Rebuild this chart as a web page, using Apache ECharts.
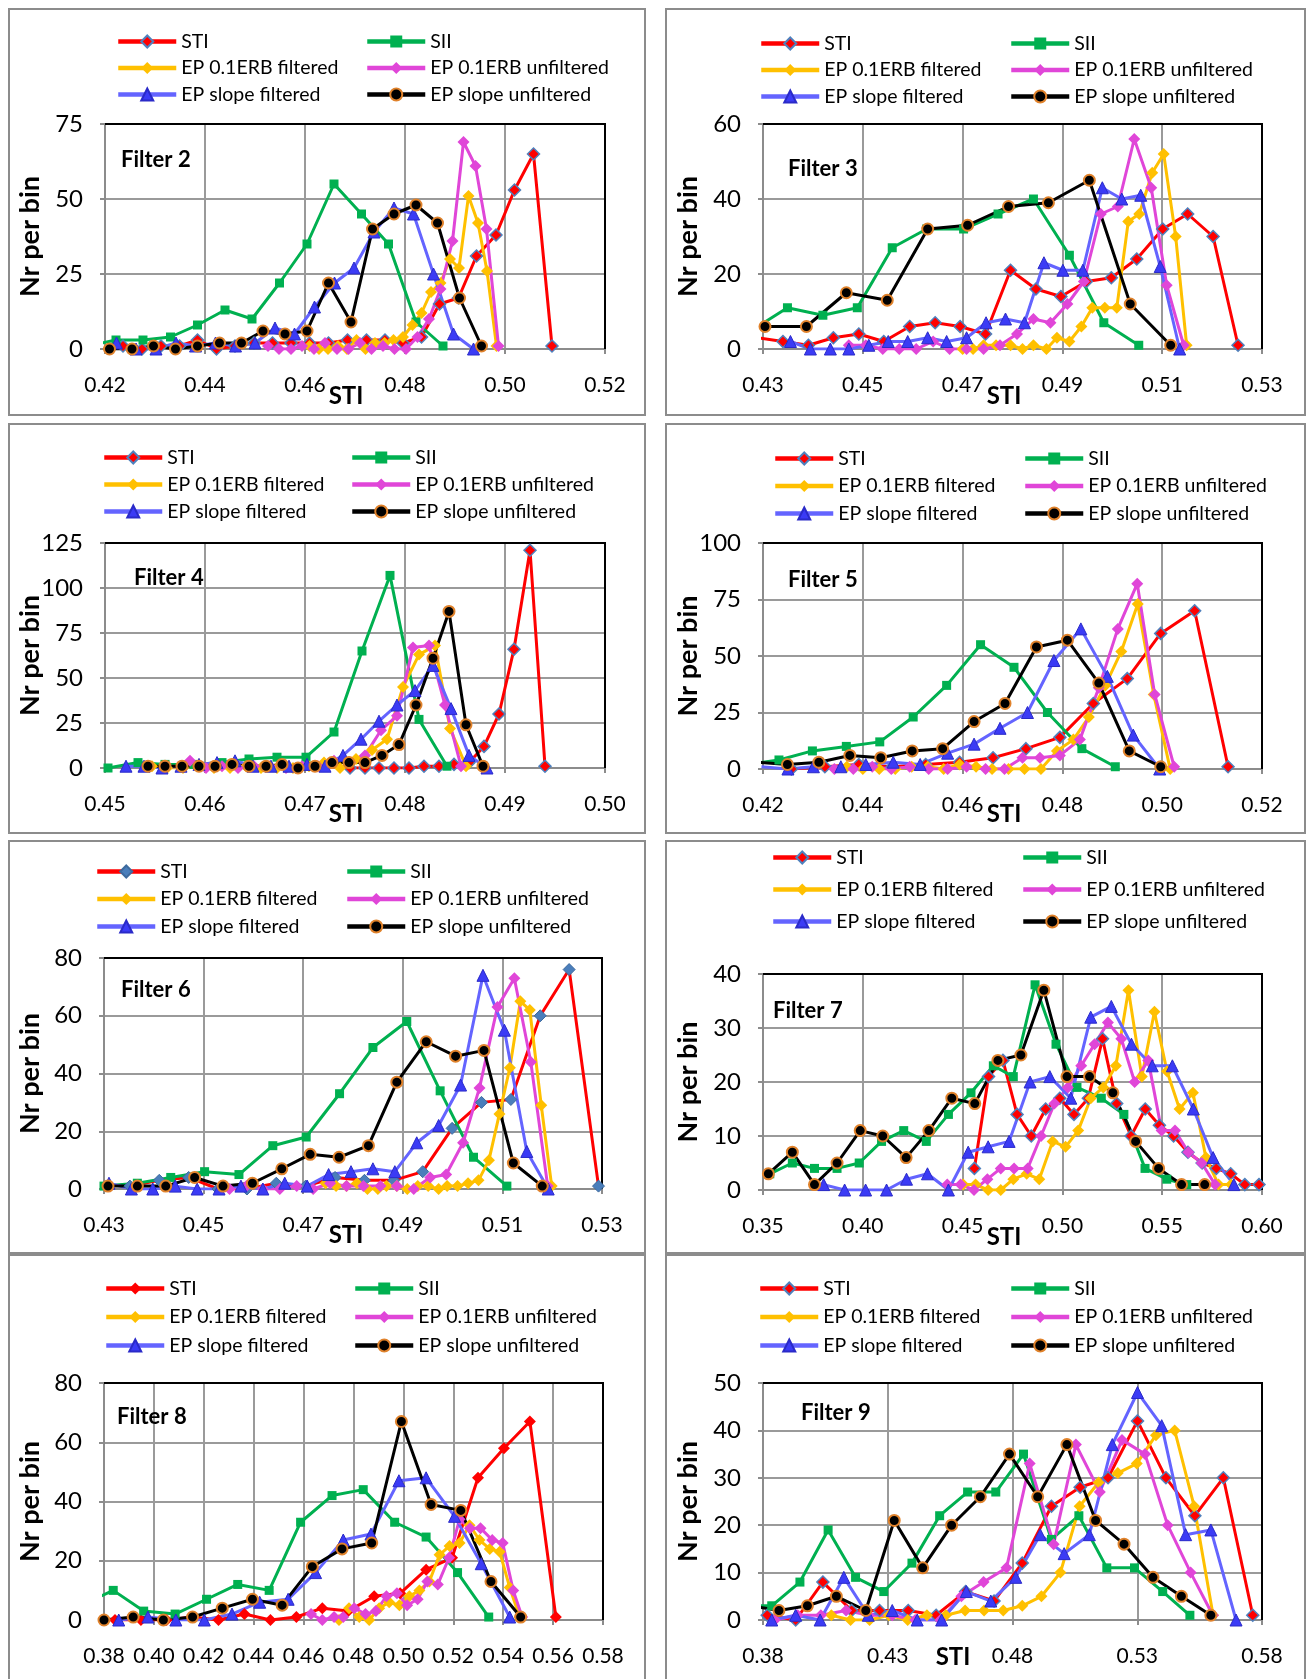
<!DOCTYPE html>
<html>
<head>
<meta charset="utf-8">
<script src="https://cdn.jsdelivr.net/npm/echarts@6/dist/echarts.min.js"></script>
<style>
  html, body { margin: 0; padding: 0; background: #ffffff; }
  #chart { width: 1311px; height: 1679px; }
</style>
</head>
<body>
<div id="chart"></div>
<script>
// ---------------- Series names ----------------
const SERIES_NAMES = ['STI', 'SII', 'EP 0.1ERB filtered', 'EP 0.1ERB unfiltered', 'EP slope filtered', 'EP slope unfiltered'];

// ---------------- Filter 2 ----------------
const f2_STI_x = [0.4236,0.4274,0.4312,0.4349,0.4385,0.4423,0.4460,0.4498,0.4535,0.4572,0.4609,0.4647,0.4685,0.4723,0.4760,0.4796,0.4833,0.4869,0.4907,0.4943,0.4982,0.5019,0.5057,0.5094];
const f2_STI_y = [1,0,1,1,3,0,1,2,2,2,2,2,3,3,3,2,4,15,17,31,38,53,65,1];
const f2_SII_x = [0.4167,0.4222,0.4276,0.4331,0.4385,0.4440,0.4494,0.4549,0.4604,0.4658,0.4713,0.4767,0.4822,0.4876];
const f2_SII_y = [1,3,3,4,8,13,10,22,35,55,45,35,9,1];
const f2_ERBf_x = [0.4609,0.4628,0.4646,0.4666,0.4684,0.4703,0.4721,0.4740,0.4759,0.4777,0.4796,0.4815,0.4833,0.4852,0.4871,0.4890,0.4908,0.4927,0.4946,0.4964,0.4983];
const f2_ERBf_y = [1,0,0,1,0,3,0,2,2,3,4,8,12,19,22,30,27,51,42,26,1];
const f2_ERBu_x = [0.4526,0.4548,0.4572,0.4594,0.4618,0.4640,0.4664,0.4687,0.4710,0.4733,0.4756,0.4779,0.4802,0.4825,0.4848,0.4871,0.4895,0.4917,0.4941,0.4963,0.4987];
const f2_ERBu_y = [1,0,0,1,0,2,0,0,2,0,1,0,0,4,10,20,36,69,61,40,1];
const f2_SLf_x = [0.4223,0.4262,0.4302,0.4342,0.4381,0.4421,0.4461,0.4500,0.4540,0.4579,0.4619,0.4659,0.4698,0.4738,0.4778,0.4817,0.4857,0.4897,0.4937];
const f2_SLf_y = [2,0,0,2,1,2,1,2,7,5,14,22,27,39,47,45,25,5,0];
const f2_SLu_x = [0.4209,0.4254,0.4297,0.4341,0.4385,0.4429,0.4473,0.4516,0.4560,0.4604,0.4647,0.4692,0.4735,0.4778,0.4822,0.4865,0.4909,0.4953];
const f2_SLu_y = [0,0,1,0,1,2,2,6,5,6,22,9,40,45,48,42,17,1];
const f2_ticks = [0.42,0.44,0.46,0.48,0.50,0.52];

// ---------------- Filter 3 ----------------
const f3_STI_x = [0.4290,0.4340,0.4391,0.4441,0.4492,0.4542,0.4594,0.4645,0.4695,0.4746,0.4796,0.4847,0.4897,0.4948,0.4998,0.5049,0.5101,0.5151,0.5202,0.5252];
const f3_STI_y = [3,2,1,3,4,2,6,7,6,4,21,16,14,18,19,24,32,36,30,1];
const f3_SII_x = [0.4278,0.4349,0.4420,0.4489,0.4559,0.4628,0.4702,0.4771,0.4842,0.4914,0.4983,0.5053];
const f3_SII_y = [5,11,9,11,27,32,32,36,40,25,7,1];
const f3_ERBf_x = [0.4700,0.4721,0.4742,0.4767,0.4796,0.4820,0.4842,0.4868,0.4889,0.4914,0.4938,0.4960,0.4985,0.5009,0.5032,0.5054,0.5080,0.5103,0.5127,0.5149];
const f3_ERBf_y = [0,0,1,1,1,0,1,0,3,2,6,11,11,11,34,36,47,52,30,1];
const f3_ERBu_x = [0.4472,0.4506,0.4540,0.4573,0.4607,0.4641,0.4674,0.4708,0.4742,0.4775,0.4809,0.4842,0.4876,0.4910,0.4943,0.4977,0.5011,0.5044,0.5078,0.5109,0.5143];
const f3_ERBu_y = [1,1,0,0,0,2,0,0,0,1,4,8,7,12,18,36,38,56,43,17,1];
const f3_SLf_x = [0.4355,0.4395,0.4435,0.4472,0.4512,0.4551,0.4590,0.4630,0.4668,0.4708,0.4747,0.4786,0.4824,0.4863,0.4901,0.4941,0.4980,0.5019,0.5057,0.5096,0.5135];
const f3_SLf_y = [2,0,0,0,1,2,2,3,2,3,7,8,7,23,21,21,43,40,41,22,0];
const f3_SLu_x = [0.4304,0.4387,0.4467,0.4549,0.4630,0.4710,0.4792,0.4872,0.4954,0.5036,0.5117];
const f3_SLu_y = [6,6,15,13,32,33,38,39,45,12,1];
const f3_ticks = [0.43,0.45,0.47,0.49,0.51,0.53];

// ---------------- Filter 4 ----------------
const f4_STI_x = [0.4745,0.4760,0.4774,0.4789,0.4804,0.4819,0.4834,0.4849,0.4864,0.4879,0.4894,0.4909,0.4925,0.4940];
const f4_STI_y = [0,0,0,0,0,1,1,2,3,12,30,66,121,1];
const f4_SII_x = [0.4503,0.4533,0.4560,0.4589,0.4617,0.4644,0.4672,0.4701,0.4729,0.4757,0.4785,0.4814,0.4842];
const f4_SII_y = [0,3,2,2,3,5,6,6,20,65,107,27,1];
const f4_ERBf_x = [0.4547,0.4562,0.4578,0.4594,0.4609,0.4625,0.4641,0.4656,0.4672,0.4688,0.4704,0.4719,0.4735,0.4751,0.4767,0.4782,0.4798,0.4814,0.4830,0.4845,0.4861];
const f4_ERBf_y = [1,0,0,2,0,0,1,0,0,0,1,3,0,5,10,16,45,63,68,22,1];
const f4_ERBu_x = [0.4585,0.4601,0.4617,0.4633,0.4649,0.4665,0.4681,0.4697,0.4713,0.4729,0.4745,0.4760,0.4776,0.4792,0.4808,0.4824,0.4840,0.4856];
const f4_ERBu_y = [4,0,1,0,1,1,0,1,1,4,3,7,21,29,67,68,35,1];
const f4_SLf_x = [0.4521,0.4539,0.4557,0.4576,0.4594,0.4612,0.4630,0.4648,0.4666,0.4684,0.4702,0.4720,0.4738,0.4756,0.4774,0.4792,0.4810,0.4828,0.4846,0.4864,0.4882];
const f4_SLf_y = [1,1,0,1,2,3,4,1,1,1,2,1,7,16,26,35,43,57,33,7,0];
const f4_SLu_x = [0.4543,0.4560,0.4577,0.4594,0.4610,0.4627,0.4644,0.4661,0.4677,0.4693,0.4710,0.4727,0.4744,0.4760,0.4777,0.4794,0.4811,0.4828,0.4844,0.4861,0.4878];
const f4_SLu_y = [1,1,1,1,1,2,1,1,2,0,1,3,3,3,7,13,35,61,87,24,1];
const f4_ticks = [0.45,0.46,0.47,0.48,0.49,0.50];

// ---------------- Filter 5 ----------------
const f5_STI_x = [0.4257,0.4324,0.4392,0.4459,0.4526,0.4594,0.4661,0.4727,0.4795,0.4862,0.4930,0.4997,0.5065,0.5132];
const f5_STI_y = [0,1,2,1,2,3,5,9,14,29,40,60,70,1];
const f5_SII_x = [0.4165,0.4232,0.4299,0.4367,0.4434,0.4501,0.4568,0.4636,0.4703,0.4770,0.4839,0.4906];
const f5_SII_y = [2,4,8,10,12,23,37,55,45,25,9,1];
const f5_ERBf_x = [0.4368,0.4400,0.4433,0.4465,0.4498,0.4530,0.4562,0.4594,0.4627,0.4659,0.4692,0.4724,0.4757,0.4789,0.4822,0.4853,0.4886,0.4918,0.4951,0.4983,0.5016];
const f5_ERBf_y = [1,0,0,0,1,1,0,2,1,0,0,0,0,8,13,23,37,52,73,33,0];
const f5_ERBu_x = [0.4305,0.4343,0.4381,0.4419,0.4457,0.4494,0.4532,0.4570,0.4608,0.4646,0.4684,0.4720,0.4755,0.4795,0.4835,0.4873,0.4911,0.4950,0.4985,0.5024];
const f5_ERBu_y = [1,0,0,1,0,1,0,0,1,0,0,5,5,6,13,36,62,82,33,1];
const f5_SLf_x = [0.4197,0.4250,0.4301,0.4356,0.4406,0.4461,0.4515,0.4570,0.4623,0.4675,0.4730,0.4783,0.4837,0.4890,0.4942,0.4995];
const f5_SLf_y = [1,0,1,1,2,3,2,7,11,18,25,48,62,41,15,0];
const f5_SLu_x = [0.4187,0.4249,0.4312,0.4374,0.4436,0.4499,0.4560,0.4623,0.4685,0.4748,0.4810,0.4873,0.4934,0.4997];
const f5_SLu_y = [3,2,3,6,5,8,9,21,29,54,57,38,8,1];
const f5_ticks = [0.42,0.44,0.46,0.48,0.50,0.52];

// ---------------- Filter 6 ----------------
const f6_STI_x = [0.4352,0.4411,0.4470,0.4529,0.4587,0.4646,0.4705,0.4764,0.4823,0.4882,0.4940,0.4999,0.5058,0.5117,0.5176,0.5234,0.5293];
const f6_STI_y = [1,3,4,0,0,2,1,4,3,3,6,21,30,31,60,76,1];
const f6_SII_x = [0.4300,0.4367,0.4434,0.4502,0.4571,0.4639,0.4706,0.4773,0.4840,0.4908,0.4975,0.5042,0.5109];
const f6_SII_y = [1,2,4,6,5,15,18,33,49,58,34,11,1];
const f6_ERBf_x = [0.4745,0.4766,0.4787,0.4808,0.4829,0.4850,0.4867,0.4888,0.4909,0.4930,0.4951,0.4972,0.4989,0.5010,0.5031,0.5052,0.5073,0.5094,0.5115,0.5136,0.5155,0.5178,0.5199];
const f6_ERBf_y = [2,1,1,2,0,0,1,1,0,1,1,0,1,1,2,3,10,26,42,65,62,29,1];
const f6_ERBu_x = [0.4552,0.4586,0.4619,0.4653,0.4687,0.4720,0.4754,0.4787,0.4821,0.4855,0.4888,0.4922,0.4955,0.4987,0.5021,0.5054,0.5090,0.5124,0.5157,0.5191];
const f6_ERBu_y = [0,1,0,0,1,0,2,1,1,1,1,0,4,5,16,35,63,73,44,1];
const f6_SLf_x = [0.4310,0.4355,0.4398,0.4443,0.4487,0.4531,0.4575,0.4619,0.4663,0.4708,0.4751,0.4796,0.4840,0.4884,0.4928,0.4972,0.5016,0.5061,0.5104,0.5149,0.5192];
const f6_SLf_y = [2,0,0,1,0,0,1,0,2,1,5,6,7,6,16,22,36,74,55,13,0];
const f6_SLu_x = [0.4308,0.4367,0.4424,0.4482,0.4539,0.4598,0.4657,0.4714,0.4772,0.4831,0.4888,0.4947,0.5006,0.5063,0.5122,0.5180];
const f6_SLu_y = [1,1,1,4,1,2,7,12,11,15,37,51,46,48,9,1];
const f6_ticks = [0.43,0.45,0.47,0.49,0.51,0.53];

// ---------------- Filter 7 ----------------
const f7_STI_x = [0.4559,0.4630,0.4702,0.4773,0.4844,0.4916,0.4987,0.5058,0.5130,0.5201,0.5272,0.5344,0.5415,0.5486,0.5557,0.5629,0.5700,0.5771,0.5843,0.5914,0.5985];
const f7_STI_y = [4,21,24,14,10,15,17,14,17,28,16,10,15,12,10,7,5,4,3,1,1];
const f7_SII_x = [0.3534,0.3647,0.3758,0.3871,0.3982,0.4094,0.4205,0.4318,0.4429,0.4542,0.4654,0.4754,0.4863,0.4968,0.5073,0.5195,0.5308,0.5414,0.5523,0.5623];
const f7_SII_y = [3,5,4,4,5,9,11,9,14,18,23,21,38,27,19,17,14,4,2,1];
const f7_ERBf_x = [0.4503,0.4565,0.4628,0.4691,0.4754,0.4821,0.4884,0.4951,0.5016,0.5079,0.5142,0.5205,0.5268,0.5331,0.5398,0.5461,0.5524,0.5587,0.5654,0.5719,0.5782,0.5845];
const f7_ERBf_y = [1,1,0,0,2,3,2,9,8,11,17,19,23,37,21,33,22,15,18,6,1,1];
const f7_ERBu_x = [0.4423,0.4490,0.4557,0.4624,0.4691,0.4758,0.4826,0.4893,0.4960,0.5027,0.5094,0.5161,0.5228,0.5295,0.5362,0.5430,0.5497,0.5564,0.5631,0.5698,0.5765];
const f7_ERBu_y = [1,1,0,2,4,4,4,10,16,19,23,27,31,28,20,24,11,11,7,5,1];
const f7_SLf_x = [0.3804,0.3909,0.4014,0.4119,0.4219,0.4324,0.4429,0.4528,0.4628,0.4733,0.4838,0.4937,0.5042,0.5142,0.5245,0.5346,0.5450,0.5551,0.5656,0.5755,0.5859];
const f7_SLf_y = [1,0,0,0,2,3,0,7,8,9,20,21,17,32,34,27,23,23,15,6,1];
const f7_SLu_x = [0.3527,0.3647,0.3758,0.3871,0.3987,0.4100,0.4217,0.4331,0.4446,0.4561,0.4677,0.4792,0.4907,0.5023,0.5136,0.5253,0.5367,0.5482,0.5597,0.5713];
const f7_SLu_y = [3,7,1,5,11,10,6,11,17,16,24,25,37,21,21,18,9,4,1,1];
const f7_ticks = [0.35,0.40,0.45,0.50,0.55,0.60];

// ---------------- Filter 8 ----------------
const f8_STI_x = [0.3740,0.3844,0.3948,0.4051,0.4155,0.4259,0.4363,0.4467,0.4571,0.4675,0.4779,0.4883,0.4987,0.5091,0.5195,0.5299,0.5403,0.5507,0.5611];
const f8_STI_y = [1,0,0,0,1,0,2,0,1,4,3,8,9,17,21,48,58,67,1];
const f8_SII_x = [0.3711,0.3837,0.3959,0.4085,0.4211,0.4336,0.4462,0.4588,0.4714,0.4839,0.4965,0.5091,0.5217,0.5342];
const f8_SII_y = [5,10,3,2,7,12,10,33,42,44,33,28,16,1];
const f8_ERBf_x = [0.4742,0.4782,0.4823,0.4863,0.4903,0.4943,0.4984,0.5024,0.5064,0.5104,0.5145,0.5185,0.5225,0.5265,0.5305,0.5346,0.5386,0.5426,0.5466];
const f8_ERBf_y = [0,4,1,0,4,6,5,8,10,13,22,25,26,32,27,24,23,11,1];
const f8_ERBu_x = [0.4630,0.4675,0.4722,0.4759,0.4803,0.4848,0.4890,0.4932,0.4974,0.5015,0.5057,0.5096,0.5138,0.5183,0.5225,0.5267,0.5309,0.5356,0.5398,0.5440,0.5476];
const f8_ERBu_y = [2,0,1,1,4,2,3,8,9,5,7,13,12,21,34,31,31,27,26,10,1];
const f8_SLf_x = [0.3859,0.3976,0.4088,0.4202,0.4313,0.4424,0.4538,0.4648,0.4759,0.4870,0.4982,0.5091,0.5205,0.5312,0.5426];
const f8_SLf_y = [0,1,0,0,2,6,7,16,27,29,47,48,35,19,1];
const f8_SLu_x = [0.3800,0.3917,0.4038,0.4155,0.4274,0.4395,0.4514,0.4635,0.4754,0.4873,0.4992,0.5111,0.5230,0.5351,0.5470];
const f8_SLu_y = [0,1,0,1,4,7,5,18,24,26,67,39,37,13,1];
const f8_ticks = [0.38,0.40,0.42,0.44,0.46,0.48,0.50,0.52,0.54,0.56,0.58];

// ---------------- Filter 9 ----------------
const f9_STI_x = [0.3817,0.3931,0.4040,0.4155,0.4267,0.4382,0.4494,0.4612,0.4726,0.4839,0.4956,0.5071,0.5183,0.5301,0.5415,0.5531,0.5645,0.5763];
const f9_STI_y = [1,0,8,2,2,2,1,6,4,12,24,28,30,42,30,22,30,1];
const f9_SII_x = [0.3723,0.3835,0.3948,0.4061,0.4171,0.4284,0.4397,0.4508,0.4620,0.4733,0.4844,0.4956,0.5066,0.5178,0.5289,0.5402,0.5511];
const f9_SII_y = [3,3,8,19,9,6,12,22,27,27,35,17,22,11,11,6,1];
const f9_ERBf_x = [0.4074,0.4151,0.4227,0.4304,0.4380,0.4457,0.4533,0.4610,0.4686,0.4763,0.4839,0.4916,0.4992,0.5069,0.5145,0.5222,0.5298,0.5375,0.5450,0.5528,0.5604];
const f9_ERBf_y = [1,0,0,1,0,1,1,2,2,2,3,5,10,24,29,31,33,39,40,24,1];
const f9_ERBu_x = [0.3847,0.3939,0.4032,0.4133,0.4225,0.4318,0.4410,0.4511,0.4595,0.4684,0.4776,0.4869,0.4965,0.5054,0.5150,0.5239,0.5331,0.5422,0.5514,0.5603];
const f9_ERBu_y = [0,1,1,2,1,1,0,0,5,8,11,33,16,37,27,38,35,20,10,1];
const f9_SLf_x = [0.3835,0.3931,0.4029,0.4124,0.4222,0.4318,0.4418,0.4516,0.4615,0.4713,0.4813,0.4911,0.5007,0.5108,0.5200,0.5301,0.5398,0.5494,0.5595,0.5696];
const f9_SLf_y = [0,1,0,9,1,2,0,0,6,4,9,18,14,18,37,48,41,18,19,0];
const f9_SLu_x = [0.3750,0.3864,0.3978,0.4094,0.4212,0.4326,0.4440,0.4556,0.4671,0.4788,0.4901,0.5018,0.5133,0.5247,0.5363,0.5477,0.5595];
const f9_SLu_y = [3,2,3,5,2,21,11,20,26,35,26,37,21,16,9,5,1];
const f9_ticks = [0.38,0.43,0.48,0.53,0.58];

// ---------------- Panel definitions ----------------
const PANELS = [
  { id: 2, xMin: 0.42, xMax: 0.52, xTicks: f2_ticks, yMax: 75,  yStep: 25, series: [[f2_STI_x,f2_STI_y],[f2_SII_x,f2_SII_y],[f2_ERBf_x,f2_ERBf_y],[f2_ERBu_x,f2_ERBu_y],[f2_SLf_x,f2_SLf_y],[f2_SLu_x,f2_SLu_y]] },
  { id: 3, xMin: 0.43, xMax: 0.53, xTicks: f3_ticks, yMax: 60,  yStep: 20, series: [[f3_STI_x,f3_STI_y],[f3_SII_x,f3_SII_y],[f3_ERBf_x,f3_ERBf_y],[f3_ERBu_x,f3_ERBu_y],[f3_SLf_x,f3_SLf_y],[f3_SLu_x,f3_SLu_y]] },
  { id: 4, xMin: 0.45, xMax: 0.50, xTicks: f4_ticks, yMax: 125, yStep: 25, series: [[f4_STI_x,f4_STI_y],[f4_SII_x,f4_SII_y],[f4_ERBf_x,f4_ERBf_y],[f4_ERBu_x,f4_ERBu_y],[f4_SLf_x,f4_SLf_y],[f4_SLu_x,f4_SLu_y]] },
  { id: 5, xMin: 0.42, xMax: 0.52, xTicks: f5_ticks, yMax: 100, yStep: 25, series: [[f5_STI_x,f5_STI_y],[f5_SII_x,f5_SII_y],[f5_ERBf_x,f5_ERBf_y],[f5_ERBu_x,f5_ERBu_y],[f5_SLf_x,f5_SLf_y],[f5_SLu_x,f5_SLu_y]] },
  { id: 6, xMin: 0.43, xMax: 0.53, xTicks: f6_ticks, yMax: 80,  yStep: 20, series: [[f6_STI_x,f6_STI_y],[f6_SII_x,f6_SII_y],[f6_ERBf_x,f6_ERBf_y],[f6_ERBu_x,f6_ERBu_y],[f6_SLf_x,f6_SLf_y],[f6_SLu_x,f6_SLu_y]] },
  { id: 7, xMin: 0.35, xMax: 0.60, xTicks: f7_ticks, yMax: 40,  yStep: 10, series: [[f7_STI_x,f7_STI_y],[f7_SII_x,f7_SII_y],[f7_ERBf_x,f7_ERBf_y],[f7_ERBu_x,f7_ERBu_y],[f7_SLf_x,f7_SLf_y],[f7_SLu_x,f7_SLu_y]] },
  { id: 8, xMin: 0.38, xMax: 0.58, xTicks: f8_ticks, yMax: 80,  yStep: 20, series: [[f8_STI_x,f8_STI_y],[f8_SII_x,f8_SII_y],[f8_ERBf_x,f8_ERBf_y],[f8_ERBu_x,f8_ERBu_y],[f8_SLf_x,f8_SLf_y],[f8_SLu_x,f8_SLu_y]] },
  { id: 9, xMin: 0.38, xMax: 0.58, xTicks: f9_ticks, yMax: 50,  yStep: 10, series: [[f9_STI_x,f9_STI_y],[f9_SII_x,f9_SII_y],[f9_ERBf_x,f9_ERBf_y],[f9_ERBu_x,f9_ERBu_y],[f9_SLf_x,f9_SLf_y],[f9_SLu_x,f9_SLu_y]] }
];

// ---------------- Page layout (pixels) ----------------
// frame: outer box [x, y, w, h]; plot: [left, top, width, height];
// legend: [left column x, right column x, first row centre y, row step];
// tag: "Filter N" label [left x, centre y]; xName: "STI" axis title centre or null
const LAYOUT = [
  { frame: [9, 9, 636, 406],     plot: [105, 124, 500, 225],  legend: [116, 365, 41, 25.5],    tag: [121, 160],  xName: [346, 396] },
  { frame: [666, 9, 639, 406],   plot: [763, 124, 499, 225],  legend: [759, 1009, 43, 25.5],   tag: [788, 169],  xName: [1004, 396] },
  { frame: [9, 424, 636, 409],   plot: [105, 543, 500, 225],  legend: [102, 350, 457, 26],     tag: [134, 578],  xName: [346, 814] },
  { frame: [666, 424, 639, 409], plot: [763, 543, 499, 226],  legend: [773, 1023, 458, 26.5],  tag: [788, 580],  xName: [1004, 814] },
  { frame: [9, 841, 636, 412],   plot: [104, 958, 498, 231],  legend: [95, 345, 871, 26.5],    tag: [121, 990],  xName: [346, 1235] },
  { frame: [666, 841, 639, 412], plot: [763, 974, 499, 216],  legend: [771, 1021, 857, 31],    tag: [773, 1011], xName: [1004, 1237] },
  { frame: [9, 1255, 636, 440],  plot: [104, 1383, 499, 237], legend: [104, 353, 1288, 27.5],  tag: [117, 1417], xName: null },
  { frame: [666, 1255, 639, 440],plot: [763, 1383, 499, 237], legend: [758, 1009, 1288, 27.5], tag: [801, 1413], xName: [953, 1657] }
];

const FONT = 'Lato, "Open Sans", "Noto Sans", sans-serif';
const GRID_GRAY = '#9a9a9a';
const AXIS_GRAY = '#8c8c8c';

// Line / marker look of the six series
function seriesLook(k, panelId) {
  switch (k) {
    case 0: {
      let item = { color: '#ff0000', borderColor: '#4f81bd', borderWidth: 1.5 };
      if (panelId === 6) item = { color: '#4a7ebb', borderColor: '#3d6a9e', borderWidth: 1 };
      if (panelId === 8) item = { color: '#ff0000', borderColor: '#ff0000', borderWidth: 0 };
      return { line: '#ff0000', symbol: 'diamond', size: 12, item };
    }
    case 1: return { line: '#00b050', symbol: 'rect', size: 9, item: { color: '#00b050', borderWidth: 0 } };
    case 2: return { line: '#ffc000', symbol: 'diamond', size: 12, item: { color: '#ffc000', borderWidth: 0 } };
    case 3: return { line: '#e046d8', symbol: 'diamond', size: 12, item: { color: '#e046d8', borderWidth: 0 } };
    case 4: return { line: '#6464ff', symbol: 'triangle', size: 12, item: { color: '#3b3bf5', borderColor: '#2a2ac8', borderWidth: 1 } };
    default: return { line: '#000000', symbol: 'circle', size: 11, item: { color: '#000000', borderColor: '#e0822b', borderWidth: 2 } };
  }
}

const grids = [], xAxes = [], yAxes = [], series = [], legends = [], graphics = [];

PANELS.forEach((p, i) => {
  const L = LAYOUT[i];
  const [gl, gt, gw, gh] = L.plot;
  grids.push({ left: gl, top: gt, width: gw, height: gh, containLabel: false, outerBoundsMode: 'none', show: false });

  xAxes.push({
    gridIndex: i, type: 'value', min: p.xMin, max: p.xMax, z: 0,
    axisLine: { show: true, onZero: false, lineStyle: { color: AXIS_GRAY, width: 2 } },
    axisTick: { show: true, length: 5, customValues: p.xTicks, lineStyle: { color: AXIS_GRAY, width: 2 } },
    axisLabel: { customValues: p.xTicks, formatter: v => v.toFixed(2), margin: 26,
                 fontSize: 21, color: '#000', fontFamily: FONT },
    splitLine: { show: true, lineStyle: { color: GRID_GRAY, width: 2 } }
  });
  yAxes.push({
    gridIndex: i, type: 'value', min: 0, max: p.yMax, interval: p.yStep, z: 0,
    axisLine: { show: true, onZero: false, lineStyle: { color: AXIS_GRAY, width: 2 } },
    axisTick: { show: true, length: 5, lineStyle: { color: AXIS_GRAY, width: 2 } },
    axisLabel: { margin: 22, fontSize: 24, color: '#000', fontFamily: FONT },
    splitLine: { show: true, lineStyle: { color: GRID_GRAY, width: 2 } }
  });

  p.series.forEach(([xs, ys], k) => {
    const look = seriesLook(k, p.id);
    series.push({
      type: 'line', name: SERIES_NAMES[k] + '|' + p.id,
      xAxisIndex: i, yAxisIndex: i,
      data: xs.map((x, j) => [x, ys[j]]),
      symbol: look.symbol, symbolSize: look.size, showAllSymbol: true,
      lineStyle: { color: look.line, width: 3 },
      itemStyle: look.item,
      clip: true, animation: false, z: 2,
      emphasis: { disabled: true }
    });
  });

  // two legend columns, three rows each
  const [lx, rx, ly, lstep] = L.legend;
  const rowH = 19;
  const cols = [[0, 2, 4, lx], [1, 3, 5, rx]];
  cols.forEach(c => {
    legends.push({
      orient: 'vertical', left: c[3], top: ly - rowH / 2, padding: 0,
      itemWidth: 58, itemHeight: 15, itemGap: lstep - rowH, selectedMode: false,
      lineStyle: { width: 4.5 },
      data: [c[0], c[1], c[2]].map(k => SERIES_NAMES[k] + '|' + p.id),
      formatter: n => n.split('|')[0],
      textStyle: { fontSize: 19.5, lineHeight: rowH, color: '#000', fontFamily: FONT }
    });
  });

  // outer frame of the panel
  const [fx, fy, fw, fh] = L.frame;
  graphics.push({ type: 'rect', shape: { x: fx, y: fy, width: fw, height: fh }, z: 0,
                  style: { fill: 'none', stroke: '#8c8c8c', lineWidth: 2 } });
  // black top and right edge of the plot area
  graphics.push({ type: 'polyline', z: 1,
                  shape: { points: [[gl, gt], [gl + gw, gt], [gl + gw, gt + gh]] },
                  style: { fill: 'none', stroke: '#000', lineWidth: 2 } });
  // "Filter N" tag
  graphics.push({ type: 'text', x: L.tag[0], y: L.tag[1], z: 5,
                  style: { text: 'Filter ' + p.id, fill: '#000', font: 'bold 22px ' + FONT,
                           textAlign: 'left', textVerticalAlign: 'middle' } });
  // y axis title
  const yTitleX = gl < 400 ? 30 : 688;
  graphics.push({ type: 'text', x: yTitleX, y: gt + gh / 2, rotation: Math.PI / 2, z: 5,
                  style: { text: 'Nr per bin', fill: '#000', font: 'bold 27px ' + FONT,
                           textAlign: 'center', textVerticalAlign: 'middle' } });
  // x axis title
  if (L.xName) {
    graphics.push({ type: 'text', x: L.xName[0], y: L.xName[1], z: 5,
                    style: { text: 'STI', fill: '#000', font: 'bold 24px ' + FONT,
                             textAlign: 'center', textVerticalAlign: 'middle' } });
  }
});

const chart = echarts.init(document.getElementById('chart'), null, { renderer: 'canvas' });
chart.setOption({
  backgroundColor: '#ffffff',
  animation: false,
  grid: grids,
  xAxis: xAxes,
  yAxis: yAxes,
  legend: legends,
  series: series,
  graphic: { elements: graphics }
});
</script>
</body>
</html>
